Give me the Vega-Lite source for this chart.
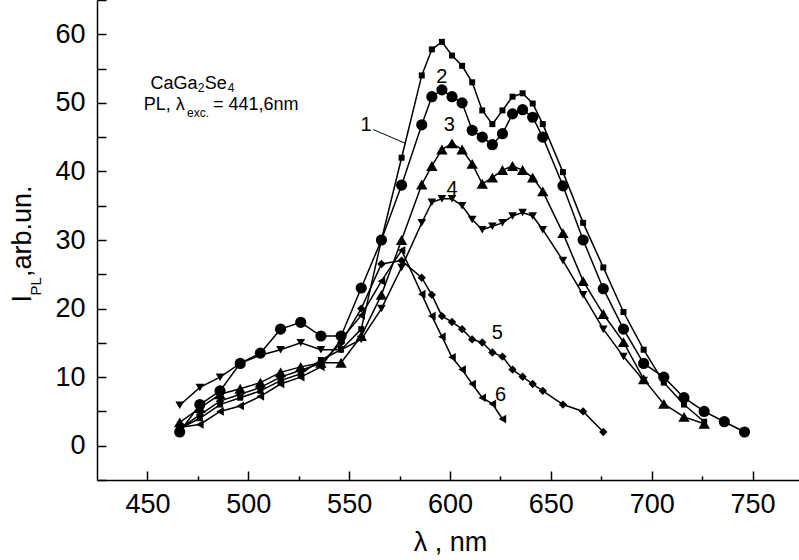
{
  "$schema": "https://vega.github.io/schema/vega-lite/v6.json",
  "width": 706,
  "height": 480,
  "autosize": {"type": "none"},
  "padding": {"left": 97, "top": 0, "right": 0, "bottom": 80},
  "background": "white",
  "config": {"view": {"stroke": null}, "font": "Liberation Sans"},
  "datasets": {
    "pl": [
      {"curve": "1", "x": 466, "y": 2.5}, {"curve": "1", "x": 476, "y": 4}, {"curve": "1", "x": 486, "y": 6}, {"curve": "1", "x": 496, "y": 7}, {"curve": "1", "x": 506, "y": 8}, {"curve": "1", "x": 516, "y": 9.5}, {"curve": "1", "x": 526, "y": 10.5}, {"curve": "1", "x": 536, "y": 12.5}, {"curve": "1", "x": 546, "y": 14}, {"curve": "1", "x": 556, "y": 17}, {"curve": "1", "x": 566, "y": 30}, {"curve": "1", "x": 576, "y": 42}, {"curve": "1", "x": 586, "y": 54}, {"curve": "1", "x": 591, "y": 57.8}, {"curve": "1", "x": 596, "y": 58.9}, {"curve": "1", "x": 601, "y": 56.9}, {"curve": "1", "x": 606, "y": 55.4}, {"curve": "1", "x": 611, "y": 53}, {"curve": "1", "x": 616, "y": 48.9}, {"curve": "1", "x": 621, "y": 46.9}, {"curve": "1", "x": 626, "y": 48.9}, {"curve": "1", "x": 631, "y": 50.9}, {"curve": "1", "x": 636, "y": 51.4}, {"curve": "1", "x": 641, "y": 49.9}, {"curve": "1", "x": 646, "y": 46.9}, {"curve": "1", "x": 656, "y": 39.9}, {"curve": "1", "x": 666, "y": 32.5}, {"curve": "1", "x": 676, "y": 26}, {"curve": "1", "x": 686, "y": 19.5}, {"curve": "1", "x": 696, "y": 14}, {"curve": "1", "x": 706, "y": 9.2}, {"curve": "1", "x": 716, "y": 6}, {"curve": "1", "x": 726, "y": 3.5},
      {"curve": "2", "x": 466, "y": 2}, {"curve": "2", "x": 476, "y": 6}, {"curve": "2", "x": 486, "y": 8}, {"curve": "2", "x": 496, "y": 12}, {"curve": "2", "x": 506, "y": 13.5}, {"curve": "2", "x": 516, "y": 17}, {"curve": "2", "x": 526, "y": 18}, {"curve": "2", "x": 536, "y": 16}, {"curve": "2", "x": 546, "y": 16}, {"curve": "2", "x": 556, "y": 23}, {"curve": "2", "x": 566, "y": 30}, {"curve": "2", "x": 576, "y": 38}, {"curve": "2", "x": 586, "y": 46.8}, {"curve": "2", "x": 591, "y": 50.9}, {"curve": "2", "x": 596, "y": 51.9}, {"curve": "2", "x": 601, "y": 50.9}, {"curve": "2", "x": 606, "y": 50}, {"curve": "2", "x": 611, "y": 46}, {"curve": "2", "x": 616, "y": 45}, {"curve": "2", "x": 621, "y": 43.9}, {"curve": "2", "x": 626, "y": 45.5}, {"curve": "2", "x": 631, "y": 48.4}, {"curve": "2", "x": 636, "y": 49}, {"curve": "2", "x": 641, "y": 47.9}, {"curve": "2", "x": 646, "y": 45}, {"curve": "2", "x": 656, "y": 37.9}, {"curve": "2", "x": 666, "y": 30}, {"curve": "2", "x": 676, "y": 22.9}, {"curve": "2", "x": 686, "y": 17}, {"curve": "2", "x": 696, "y": 12}, {"curve": "2", "x": 706, "y": 10}, {"curve": "2", "x": 716, "y": 7}, {"curve": "2", "x": 726, "y": 5}, {"curve": "2", "x": 736, "y": 3.5}, {"curve": "2", "x": 746, "y": 2},
      {"curve": "3", "x": 466, "y": 3.4}, {"curve": "3", "x": 476, "y": 5.5}, {"curve": "3", "x": 486, "y": 7.5}, {"curve": "3", "x": 496, "y": 8.3}, {"curve": "3", "x": 506, "y": 9.2}, {"curve": "3", "x": 516, "y": 10.7}, {"curve": "3", "x": 526, "y": 11.5}, {"curve": "3", "x": 536, "y": 12.1}, {"curve": "3", "x": 546, "y": 12.1}, {"curve": "3", "x": 556, "y": 16}, {"curve": "3", "x": 566, "y": 22}, {"curve": "3", "x": 576, "y": 30}, {"curve": "3", "x": 586, "y": 38.1}, {"curve": "3", "x": 591, "y": 40.8}, {"curve": "3", "x": 596, "y": 43.2}, {"curve": "3", "x": 601, "y": 44.1}, {"curve": "3", "x": 606, "y": 43.2}, {"curve": "3", "x": 611, "y": 41.1}, {"curve": "3", "x": 616, "y": 38.2}, {"curve": "3", "x": 621, "y": 39.1}, {"curve": "3", "x": 626, "y": 40.2}, {"curve": "3", "x": 631, "y": 40.8}, {"curve": "3", "x": 636, "y": 40.2}, {"curve": "3", "x": 641, "y": 39.1}, {"curve": "3", "x": 646, "y": 37.1}, {"curve": "3", "x": 656, "y": 31}, {"curve": "3", "x": 666, "y": 24}, {"curve": "3", "x": 676, "y": 19.2}, {"curve": "3", "x": 686, "y": 15.1}, {"curve": "3", "x": 696, "y": 9.7}, {"curve": "3", "x": 706, "y": 6.1}, {"curve": "3", "x": 716, "y": 4.2}, {"curve": "3", "x": 726, "y": 3.2},
      {"curve": "4", "x": 466, "y": 5.9}, {"curve": "4", "x": 476, "y": 8.5}, {"curve": "4", "x": 486, "y": 10}, {"curve": "4", "x": 496, "y": 12}, {"curve": "4", "x": 506, "y": 13.2}, {"curve": "4", "x": 516, "y": 14}, {"curve": "4", "x": 526, "y": 15}, {"curve": "4", "x": 536, "y": 14}, {"curve": "4", "x": 546, "y": 14}, {"curve": "4", "x": 556, "y": 15.5}, {"curve": "4", "x": 566, "y": 20}, {"curve": "4", "x": 576, "y": 26}, {"curve": "4", "x": 586, "y": 32.5}, {"curve": "4", "x": 591, "y": 35.5}, {"curve": "4", "x": 596, "y": 36}, {"curve": "4", "x": 601, "y": 36}, {"curve": "4", "x": 606, "y": 35}, {"curve": "4", "x": 611, "y": 33}, {"curve": "4", "x": 616, "y": 31.5}, {"curve": "4", "x": 621, "y": 32}, {"curve": "4", "x": 626, "y": 32.5}, {"curve": "4", "x": 631, "y": 33.5}, {"curve": "4", "x": 636, "y": 34}, {"curve": "4", "x": 641, "y": 33.5}, {"curve": "4", "x": 646, "y": 31.5}, {"curve": "4", "x": 656, "y": 27}, {"curve": "4", "x": 666, "y": 22}, {"curve": "4", "x": 676, "y": 17}, {"curve": "4", "x": 686, "y": 13}, {"curve": "4", "x": 696, "y": 9.5},
      {"curve": "5", "x": 466, "y": 2.5}, {"curve": "5", "x": 476, "y": 4.5}, {"curve": "5", "x": 486, "y": 6.5}, {"curve": "5", "x": 496, "y": 7.5}, {"curve": "5", "x": 506, "y": 8.5}, {"curve": "5", "x": 516, "y": 10}, {"curve": "5", "x": 526, "y": 11}, {"curve": "5", "x": 536, "y": 12}, {"curve": "5", "x": 546, "y": 15}, {"curve": "5", "x": 556, "y": 20}, {"curve": "5", "x": 566, "y": 26.5}, {"curve": "5", "x": 576, "y": 27}, {"curve": "5", "x": 586, "y": 24.5}, {"curve": "5", "x": 591, "y": 22}, {"curve": "5", "x": 596, "y": 18.9}, {"curve": "5", "x": 601, "y": 18.05}, {"curve": "5", "x": 606, "y": 17}, {"curve": "5", "x": 611, "y": 15.5}, {"curve": "5", "x": 616, "y": 15.05}, {"curve": "5", "x": 621, "y": 13.6}, {"curve": "5", "x": 626, "y": 13}, {"curve": "5", "x": 631, "y": 11.1}, {"curve": "5", "x": 636, "y": 10.05}, {"curve": "5", "x": 641, "y": 9}, {"curve": "5", "x": 646, "y": 8}, {"curve": "5", "x": 656, "y": 6}, {"curve": "5", "x": 666, "y": 5}, {"curve": "5", "x": 676, "y": 2},
      {"curve": "6", "x": 466, "y": 2.7}, {"curve": "6", "x": 476, "y": 3.1}, {"curve": "6", "x": 486, "y": 5}, {"curve": "6", "x": 496, "y": 5.8}, {"curve": "6", "x": 506, "y": 7.2}, {"curve": "6", "x": 516, "y": 9}, {"curve": "6", "x": 526, "y": 10}, {"curve": "6", "x": 536, "y": 11.5}, {"curve": "6", "x": 546, "y": 15.5}, {"curve": "6", "x": 556, "y": 19}, {"curve": "6", "x": 566, "y": 24}, {"curve": "6", "x": 576, "y": 28.5}, {"curve": "6", "x": 586, "y": 22.1}, {"curve": "6", "x": 591, "y": 18.9}, {"curve": "6", "x": 596, "y": 15.9}, {"curve": "6", "x": 601, "y": 12.9}, {"curve": "6", "x": 606, "y": 11.1}, {"curve": "6", "x": 611, "y": 9}, {"curve": "6", "x": 616, "y": 7}, {"curve": "6", "x": 621, "y": 6.1}, {"curve": "6", "x": 626, "y": 3.9}
    ],
    "labels": [
      {"x": 451.5, "y": 52.0, "text": "CaGa"},
      {"x": 478.4, "y": 52.0, "text": "Se"},
      {"x": 448.2, "y": 49.0, "text": "PL, λ"},
      {"x": 482.5, "y": 49.0, "text": "= 441,6nm"}
    ],
    "subs": [
      {"x": 475.0, "y": 51.65, "text": "2"},
      {"x": 489.8, "y": 51.65, "text": "4"},
      {"x": 469.6, "y": 47.95, "text": "exc."}
    ],
    "curvelabels": [
      {"x": 558.4, "y": 46.75, "text": "1"},
      {"x": 595.9, "y": 53.8, "text": "2"},
      {"x": 599.6, "y": 46.7, "text": "3"},
      {"x": 601.0, "y": 37.5, "text": "4"},
      {"x": 623.4, "y": 16.5, "text": "5"},
      {"x": 625.1, "y": 7.4, "text": "6"}
    ],
    "leader": [
      {"x": 562.0, "y": 46.1, "x2": 578.2, "y2": 44.06}
    ],
    "ytitle": [
      {"x": 392.5, "y": 20.9, "text": "I"},
      {"x": 392.5, "y": 24.6, "text": ",arb.un."}
    ],
    "ytitlesub": [
      {"x": 397.4, "y": 21.9, "text": "PL"}
    ]
  },
  "encoding": {
    "x": {
      "field": "x", "type": "quantitative",
      "scale": {"domain": [425, 775], "nice": false, "zero": false},
      "axis": {
        "title": "λ , nm",
        "values": [450, 475, 500, 525, 550, 575, 600, 625, 650, 675, 700, 725, 750, 775],
        "labelExpr": "datum.value % 50 === 0 ? datum.label : ''",
        "tickSize": {"condition": {"test": "datum.value % 50 === 0", "value": -9}, "value": -4},
        "labelPadding": 20,
        "grid": false,
        "domainColor": "black", "domainWidth": 1.5,
        "tickColor": "black", "tickWidth": 1.5,
        "labelFont": "Liberation Sans", "labelFontSize": 27, "labelColor": "black",
        "labelFlush": false, "labelOverlap": false,
        "titleFont": "Liberation Sans", "titleFontSize": 27, "titleFontWeight": "normal", "titleColor": "black",
        "titlePadding": 7
      }
    },
    "y": {
      "field": "y", "type": "quantitative",
      "scale": {"domain": [-5, 65], "nice": false, "zero": false},
      "axis": {
        "title": null,
        "values": [-5, 0, 5, 10, 15, 20, 25, 30, 35, 40, 45, 50, 55, 60, 65],
        "labelExpr": "datum.value % 10 === 0 && datum.value >= 0 && datum.value <= 60 ? datum.label : ''",
        "tickSize": -9,
        "labelPadding": 21,
        "grid": false,
        "domainColor": "black", "domainWidth": 1.5,
        "tickColor": "black", "tickWidth": 1.5,
        "labelFont": "Liberation Sans", "labelFontSize": 27, "labelColor": "black",
        "labelFlush": false, "labelOverlap": false
      }
    }
  },
  "layer": [
    {
      "data": {"name": "pl"},
      "mark": {"type": "line", "color": "black", "strokeWidth": 1.5},
      "encoding": {"detail": {"field": "curve", "type": "nominal"}}
    },
    {
      "data": {"name": "pl"},
      "transform": [{"filter": "datum.curve === '1'"}],
      "mark": {"type": "point", "shape": "square", "size": 36, "filled": true, "color": "black", "opacity": 1}
    },
    {
      "data": {"name": "pl"},
      "transform": [{"filter": "datum.curve === '2'"}],
      "mark": {"type": "point", "shape": "circle", "size": 125, "filled": true, "color": "black", "opacity": 1}
    },
    {
      "data": {"name": "pl"},
      "transform": [{"filter": "datum.curve === '3'"}],
      "mark": {"type": "point", "shape": "triangle-up", "size": 130, "filled": true, "color": "black", "opacity": 1}
    },
    {
      "data": {"name": "pl"},
      "transform": [{"filter": "datum.curve === '4'"}],
      "mark": {"type": "point", "shape": "triangle-down", "size": 75, "filled": true, "color": "black", "opacity": 1}
    },
    {
      "data": {"name": "pl"},
      "transform": [{"filter": "datum.curve === '5'"}],
      "mark": {"type": "point", "shape": "diamond", "size": 70, "filled": true, "color": "black", "opacity": 1}
    },
    {
      "data": {"name": "pl"},
      "transform": [{"filter": "datum.curve === '6'"}],
      "mark": {"type": "point", "shape": "triangle-left", "size": 75, "filled": true, "color": "black", "opacity": 1}
    },
    {
      "data": {"name": "leader"},
      "mark": {"type": "rule", "color": "black", "strokeWidth": 1},
      "encoding": {"x2": {"field": "x2"}, "y2": {"field": "y2"}}
    },
    {
      "data": {"name": "labels"},
      "mark": {"type": "text", "fontSize": 18, "align": "left", "baseline": "alphabetic", "color": "black", "font": "Liberation Sans"},
      "encoding": {"text": {"field": "text"}}
    },
    {
      "data": {"name": "subs"},
      "mark": {"type": "text", "fontSize": 12, "align": "left", "baseline": "alphabetic", "color": "black", "font": "Liberation Sans"},
      "encoding": {"text": {"field": "text"}}
    },
    {
      "data": {"name": "curvelabels"},
      "mark": {"type": "text", "fontSize": 20, "align": "center", "baseline": "middle", "color": "black", "font": "Liberation Sans"},
      "encoding": {"text": {"field": "text"}}
    },
    {
      "data": {"name": "ytitle"},
      "mark": {"type": "text", "fontSize": 27, "angle": 270, "align": "left", "baseline": "alphabetic", "color": "black", "font": "Liberation Sans"},
      "encoding": {"text": {"field": "text"}}
    },
    {
      "data": {"name": "ytitlesub"},
      "mark": {"type": "text", "fontSize": 15, "angle": 270, "align": "left", "baseline": "alphabetic", "color": "black", "font": "Liberation Sans"},
      "encoding": {"text": {"field": "text"}}
    }
  ]
}
